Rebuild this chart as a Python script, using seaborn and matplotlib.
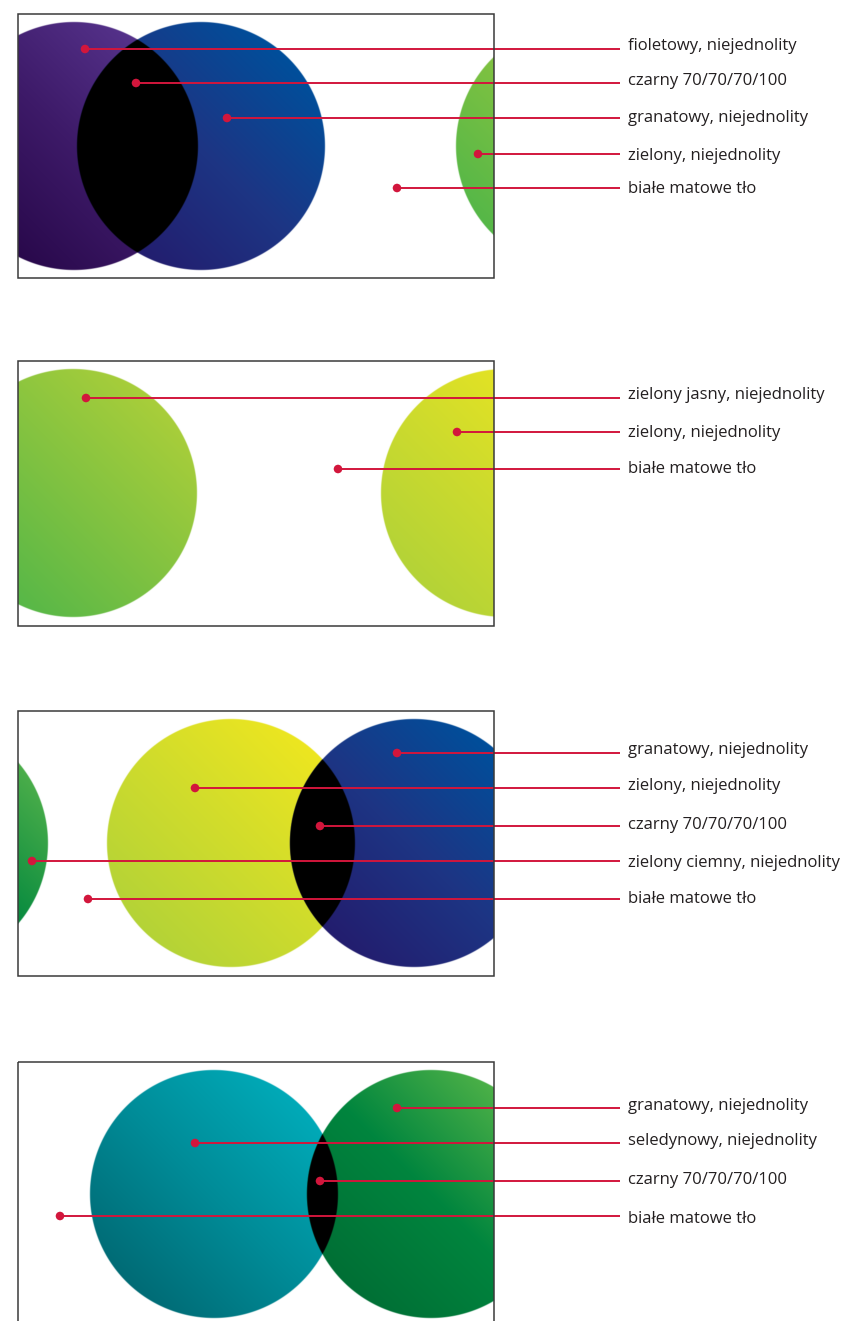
import numpy as np
import pandas as pd
import matplotlib
matplotlib.use("Agg")
import matplotlib.pyplot as plt
import seaborn as sns
from matplotlib.colors import to_rgb
from matplotlib.patches import Rectangle

W, H = 849, 1321
RED = "#d2163c"

# panel frames in pixels: left, top, right, bottom
frame_left = [18, 18, 18, 18]
frame_top = [14, 361, 711, 1062]
frame_right = [494, 494, 494, 494]
frame_bottom = [278, 626, 976, 1340]

# circles (all radius 124) and their gradient (bottom-left, middle, top-right)
circle_panel = [0, 0, 0, 1, 1, 2, 2, 2, 3, 3]
circle_x = [74, 201, 580, 73, 505, -76, 231, 414, 214, 431]
circle_y = [146, 146, 146, 493, 493, 843, 843, 843, 1194, 1194]
circle_colors = [
    ("#28084a", "#3d1a68", "#56338c"),   # fioletowy
    ("#231d6e", "#1d3584", "#004f9b"),   # granatowy
    ("#55b748", "#80c241", "#a9ce3a"),   # zielony
    ("#55b748", "#80c241", "#a9ce3a"),   # zielony jasny
    ("#b4d337", "#d0dc2c", "#ede620"),   # zielony (zolty)
    ("#006233", "#00873e", "#4cae4a"),   # zielony ciemny
    ("#b4d337", "#d0dc2c", "#ede620"),   # zielony (zolty)
    ("#231d6e", "#1d3584", "#004f9b"),   # granatowy
    ("#006b75", "#008c98", "#00aab8"),   # seledynowy
    ("#006f35", "#00853e", "#4fb248"),   # zielony
]
RADIUS = 124

# callouts
labels = [
    ["fioletowy, niejednolity", "czarny 70/70/70/100", "granatowy, niejednolity",
     "zielony, niejednolity", "białe matowe tło"],
    ["zielony jasny, niejednolity", "zielony, niejednolity", "białe matowe tło"],
    ["granatowy, niejednolity", "zielony, niejednolity", "czarny 70/70/70/100",
     "zielony ciemny, niejednolity", "białe matowe tło"],
    ["granatowy, niejednolity", "seledynowy, niejednolity", "czarny 70/70/70/100",
     "białe matowe tło"],
]
dot_x = [[85, 136, 227, 478, 397], [86, 457, 338], [397, 195, 320, 32, 88], [397, 195, 320, 60]]
dot_y = [[49, 83, 118, 154, 188], [398, 432, 469], [753, 788, 826, 861, 899], [1108, 1143, 1181, 1216]]
label_y = [[45, 80, 117, 155, 188], [394, 432, 468], [749, 785, 824, 862, 898], [1105, 1140, 1179, 1218]]

sns.set_style("white")
plt.rcParams["font.family"] = ["Open Sans", "DejaVu Sans"]

fig = plt.figure(figsize=(W / 100, H / 100), dpi=100)
ax = fig.add_axes([0, 0, 1, 1])
ax.set_xlim(0, W)
ax.set_ylim(H, 0)
ax.axis("off")


def gradient(stops, t):
    cols = np.array([to_rgb(c) for c in stops])
    pos = np.linspace(0, 1, len(stops))
    return np.stack([np.interp(t, pos, cols[:, k]) for k in range(3)], axis=-1)


ss = 2  # supersampling
for p in range(4):
    l, t, r, b = frame_left[p], frame_top[p], frame_right[p], frame_bottom[p]
    xs = l + (np.arange((r - l) * ss) + 0.5) / ss
    ys = t + (np.arange((b - t) * ss) + 0.5) / ss
    X, Y = np.meshgrid(xs, ys)
    img = np.ones(X.shape + (3,))
    alphas = []
    for i in range(len(circle_x)):
        if circle_panel[i] != p:
            continue
        cx, cy = circle_x[i], circle_y[i]
        d = np.hypot(X - cx, Y - cy)
        a = np.clip((RADIUS - d) + 0.5, 0, 1)[..., None]
        tt = ((X - cx) - (Y - cy)) / np.sqrt(2) / RADIUS
        tt = np.clip((tt + 1) / 2, 0, 1)
        col = gradient(circle_colors[i], tt)
        img = img * (1 - a) + col * a
        alphas.append(a)
    for i in range(len(alphas)):
        for j in range(i + 1, len(alphas)):
            a = alphas[i] * alphas[j]
            img = img * (1 - a)
    ax.imshow(img, extent=(l, r, b, t), interpolation="antialiased", zorder=1)
    ax.add_patch(Rectangle((l, t), r - l, b - t, fill=False, ec="#3a3a3a", lw=1.1, zorder=5))

# leader lines and labels
rows = []
for p in range(4):
    for k in range(len(labels[p])):
        rows.append({"x": dot_x[p][k], "y": dot_y[p][k], "label": labels[p][k],
                     "ly": label_y[p][k]})
df = pd.DataFrame(rows)

ax.hlines(df["y"], df["x"], 620, color=RED, lw=1.4, zorder=3)
sns.scatterplot(data=df, x="x", y="y", ax=ax, color=RED, s=38, edgecolor="none", zorder=4,
                legend=False)
for _, row in df.iterrows():
    ax.text(628, row["ly"] + 5, row["label"], fontsize=12, color="#231f20", va="baseline",
            ha="left")

ax.set_xlim(0, W)
ax.set_ylim(H, 0)
ax.axis("off")
fig.savefig("out.png", dpi=100)
